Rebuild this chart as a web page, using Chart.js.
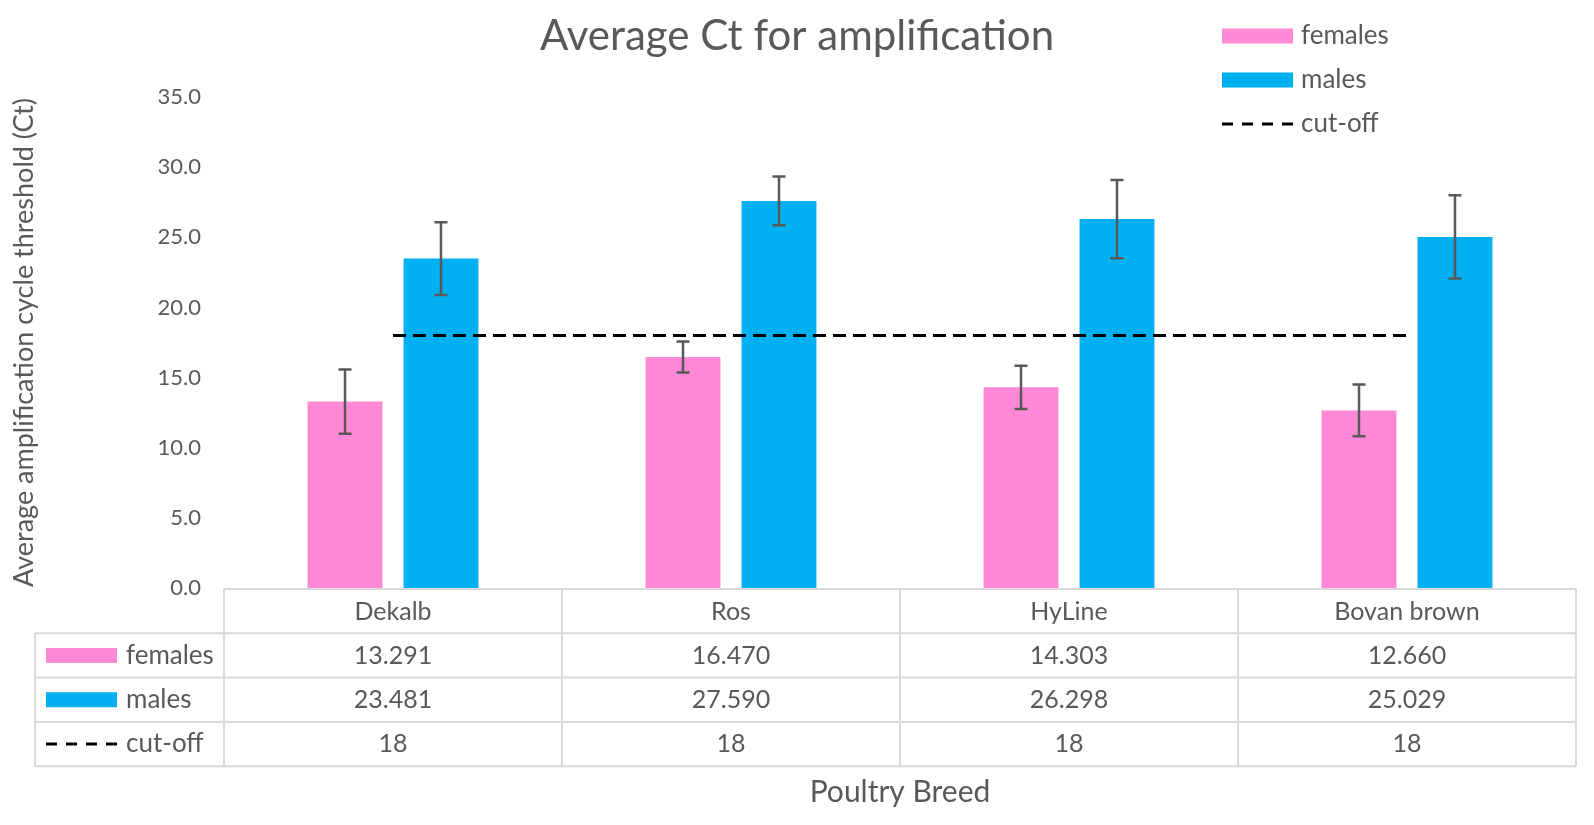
<!DOCTYPE html>
<html>
<head>
<meta charset="utf-8">
<script src="https://cdn.jsdelivr.net/npm/chart.js@4.4.1/dist/chart.umd.min.js"></script>
<style>
  html, body { margin: 0; padding: 0; background: #ffffff; }
  #wrap { width: 1594px; height: 825px; position: relative; }
</style>
</head>
<body>
<div id="wrap"><canvas id="c"></canvas></div>
<script>
// ---- data ----
const categories = ['Dekalb', 'Ros', 'HyLine', 'Bovan brown'];
const females = [13.291, 16.470, 14.303, 12.660];
const males = [23.481, 27.590, 26.298, 25.029];
const cutoff = [18, 18, 18, 18];
const femalesErr = [2.29, 1.10, 1.54, 1.85];
const malesErr = [2.59, 1.74, 2.79, 2.97];
const yMin = 0, yMax = 35, yStep = 5;
const chartTitle = 'Average Ct for amplification';
const xTitle = 'Poultry Breed';
const yTitle = 'Average amplification cycle threshold (Ct)';

const FONT = 'Lato, "Open Sans", sans-serif';
const TEXT = '#595959';
const PINK = '#FF89D6';
const BLUE = '#00B0F0';
const GRIDC = '#D9D9D9';

Chart.defaults.font.family = FONT;
Chart.defaults.color = TEXT;

const errorBars = {
  id: 'errorBars',
  afterDatasetDraw(chart, args) {
    const ds = chart.data.datasets[args.index];
    if (!ds.errors) return;
    const ctx = chart.ctx;
    const y = chart.scales.y;
    ctx.save();
    ctx.strokeStyle = '#595959';
    ctx.lineWidth = 2.5;
    args.meta.data.forEach((bar, i) => {
      const v = ds.data[i], e = ds.errors[i];
      const yt = y.getPixelForValue(v + e);
      const yb = y.getPixelForValue(v - e);
      const cx = bar.x;
      ctx.beginPath();
      ctx.moveTo(cx, yt); ctx.lineTo(cx, yb);
      ctx.moveTo(cx - 6.5, yt); ctx.lineTo(cx + 6.5, yt);
      ctx.moveTo(cx - 6.5, yb); ctx.lineTo(cx + 6.5, yb);
      ctx.stroke();
    });
    ctx.restore();
  }
};

function drawKey(ctx, ds, x, yc) {
  if (ds.type === 'line') {
    ctx.save();
    ctx.strokeStyle = '#000';
    ctx.lineWidth = 3;
    ctx.setLineDash([11, 9]);
    ctx.beginPath();
    ctx.moveTo(x, yc); ctx.lineTo(x + 71, yc);
    ctx.stroke();
    ctx.restore();
  } else {
    ctx.fillStyle = ds.backgroundColor;
    ctx.fillRect(x, yc - 7.5, 71, 15);
  }
}

const decorations = {
  id: 'decorations',
  afterDraw(chart) {
    const ctx = chart.ctx;
    const area = chart.chartArea;
    const xs = chart.scales.x;
    ctx.save();

    // Title
    ctx.fillStyle = TEXT;
    ctx.font = '42px ' + FONT;
    ctx.textAlign = 'center';
    ctx.textBaseline = 'alphabetic';
    ctx.fillText(chartTitle, chart.width / 2, 50);

    // Legend (top right)
    const dsets = chart.data.datasets;
    ctx.font = '26px ' + FONT;
    ctx.textAlign = 'left';
    ctx.textBaseline = 'middle';
    dsets.forEach((ds, i) => {
      const yc = 36 + i * 44;
      drawKey(ctx, ds, 1222, yc);
      ctx.fillStyle = TEXT;
      ctx.fillText(ds.label, 1301, yc);
    });

    // Data table
    const left = area.left, right = area.right;
    const n = categories.length;
    const catW = (right - left) / n;
    const top = area.bottom + 1;
    const rowH = 44.3;
    const tableLeft = 35;
    const rowsY = [top, top + rowH, top + 2 * rowH, top + 3 * rowH, top + 4 * rowH];
    ctx.strokeStyle = GRIDC;
    ctx.lineWidth = 2;
    ctx.beginPath();
    // horizontal lines
    ctx.moveTo(left, rowsY[0]); ctx.lineTo(right, rowsY[0]);
    for (let r = 1; r < rowsY.length; r++) {
      ctx.moveTo(tableLeft, rowsY[r]); ctx.lineTo(right, rowsY[r]);
    }
    // vertical lines
    for (let c = 0; c <= n; c++) {
      const xx = left + c * catW;
      ctx.moveTo(xx, rowsY[0]); ctx.lineTo(xx, rowsY[4]);
    }
    ctx.moveTo(tableLeft, rowsY[1]); ctx.lineTo(tableLeft, rowsY[4]);
    ctx.stroke();

    // row contents
    const rowVals = [females, males, cutoff];
    const fmt = [v => v.toFixed(3), v => v.toFixed(3), v => String(v)];
    ctx.font = '25px ' + FONT;
    ctx.textBaseline = 'middle';
    for (let r = 0; r < 3; r++) {
      const yc = (rowsY[r + 1] + rowsY[r + 2]) / 2;
      // key + label
      drawKey(ctx, dsets[r], 46, yc);
      ctx.fillStyle = TEXT;
      ctx.textAlign = 'left';
      ctx.font = '26px ' + FONT;
      ctx.fillText(dsets[r].label, 126, yc);
      ctx.font = '25px ' + FONT;
      ctx.textAlign = 'center';
      rowVals[r].forEach((v, i) => {
        ctx.fillText(fmt[r](v), xs.getPixelForValue(i), yc);
      });
    }
    ctx.restore();
  }
};

new Chart(document.getElementById('c'), {
  type: 'bar',
  data: {
    labels: categories,
    datasets: [
      { label: 'females', data: females, errors: femalesErr, backgroundColor: PINK, borderWidth: 0,
        categoryPercentage: 0.568, barPercentage: 0.78, order: 2 },
      { label: 'males', data: males, errors: malesErr, backgroundColor: BLUE, borderWidth: 0,
        categoryPercentage: 0.568, barPercentage: 0.78, order: 2 },
      { type: 'line', label: 'cut-off', data: cutoff, borderColor: '#000000', borderWidth: 3,
        borderDash: [13, 7], pointRadius: 0, fill: false, tension: 0, order: 1 }
    ]
  },
  options: {
    responsive: true,
    maintainAspectRatio: false,
    animation: false,
    layout: { padding: { top: 97, right: 18, bottom: 0, left: 0 } },
    plugins: {
      legend: { display: false },
      title: { display: false },
      tooltip: { enabled: false }
    },
    scales: {
      x: {
        grid: { display: false, drawTicks: false },
        border: { display: false },
        ticks: { font: { size: 25 }, color: TEXT, padding: 9 },
        title: { display: true, text: xTitle, font: { size: 30 }, color: TEXT, padding: { top: 0, bottom: 15 } },
        afterFit(s) { s.height = 237; }
      },
      y: {
        min: yMin, max: yMax,
        ticks: { stepSize: yStep, callback: v => Number(v).toFixed(1), font: { size: 22 }, color: TEXT, padding: 23 },
        grid: { display: false, drawTicks: false },
        border: { display: false },
        title: { display: true, text: yTitle, font: { size: 27 }, color: TEXT, padding: { top: 8, bottom: 0 } },
        afterFit(s) { s.width = 224; }
      }
    }
  },
  plugins: [errorBars, decorations]
});
</script>
</body>
</html>
